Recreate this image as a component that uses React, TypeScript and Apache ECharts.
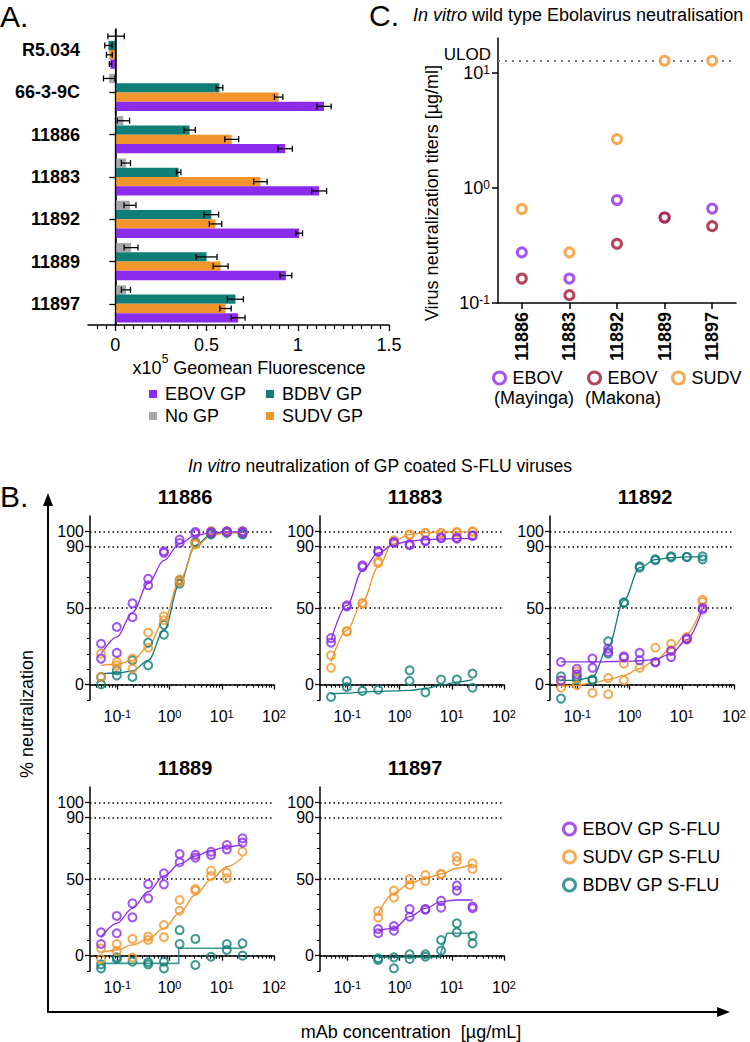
import React, { useEffect, useRef } from 'react';
import * as echarts from 'echarts';

const FONT = '"Liberation Sans", Arial, Helvetica, sans-serif';
const PURPLE = '#8B2BEC';
const TEAL = '#0F7E77';
const ORANGE = '#F2952C';
const GREY = '#A7A7AB';
const RED = '#A3142F';

// ---------------- Panel A ----------------
const aCategories = ['R5.034', '66-3-9C', '11886', '11883', '11892', '11889', '11897'];
const aNoGP = [0.004, -0.034, 0.044, 0.058, 0.08, 0.086, 0.058];
const aNoGPErr = [0.045, 0.031, 0.034, 0.025, 0.033, 0.038, 0.025];
const aBDBV = [-0.038, 0.571, 0.407, 0.347, 0.526, 0.5, 0.658];
const aBDBVErr = [0.02, 0.018, 0.031, 0.012, 0.04, 0.057, 0.044];
const aSUDV = [-0.033, 0.895, 0.638, 0.795, 0.549, 0.577, 0.604];
const aSUDVErr = [0.016, 0.023, 0.038, 0.037, 0.034, 0.041, 0.031];
const aEBOV = [-0.027, 1.144, 0.931, 1.117, 1.008, 0.935, 0.673];
const aEBOVErr = [0.006, 0.039, 0.039, 0.041, 0.018, 0.032, 0.038];
const aXMajor = [0, 0.5, 1, 1.5];
const aXMinor = [-0.1, -0.05, 0.05, 0.1, 0.15, 0.2, 0.25, 0.3, 0.35, 0.4, 0.45, 0.55, 0.6, 0.65, 0.7, 0.75, 0.8, 0.85, 0.9, 0.95, 1.05, 1.1, 1.15, 1.2, 1.25, 1.3, 1.35, 1.4, 1.45];

// ---------------- Panel C ----------------
const cCategories = ['11886', '11883', '11892', '11889', '11897'];
const cMayinga = [0.275, 0.163, 0.785, 0.553, 0.66];
const cMakona = [0.163, 0.117, 0.327, 0.553, 0.465];
const cSudv = [0.655, 0.275, 2.65, 12.7, 12.7];
const cUlod = 12.7;
const cYTicks = [0.1, 1, 10];

// ---------------- Panel B ----------------
const concFull = [0.0488, 0.0977, 0.195, 0.39, 0.78, 1.56, 3.125, 6.25, 12.5, 25];
const concShort = [0.39, 0.78, 1.56, 3.125, 6.25, 12.5, 25];
const bRefLines = [0, 50, 90, 100];
const bYMajor = [0, 50, 90, 100];
const bYLabelsA = [0, 50, 100];
const bYLabelsB = [90];
const bYMinor = [-10, 10, 20, 30, 40, 60, 70, 80];
const bXMajor = [0.1, 1, 10, 100];
const bXMinor = [0.04, 0.05, 0.06, 0.07, 0.08, 0.09, 0.2, 0.3, 0.4, 0.5, 0.6, 0.7, 0.8, 0.9, 2, 3, 4, 5, 6, 7, 8, 9, 20, 30, 40, 50, 60, 70, 80, 90];

// 11886
const m11886Ebov1 = [26.7, 37.6, 53, 69, 87, 94.6, 99.6, 99.6, 100, 100];
const m11886Ebov2 = [17, 20.7, 44, 64.8, 86, 92.4, 98.5, 99, 99.6, 99];
const m11886Sudv1 = [20.2, 14.8, 17, 33.9, 44.6, 68.5, 92, 100.2, 100, 100];
const m11886Sudv2 = [5, 12.6, 10.4, 24.1, 42, 67, 91.5, 99.6, 99.6, 99.6];
const m11886Bdbv1 = [5, 9.3, 15.9, 27.4, 39, 68, 93, 98.5, 99.6, 98.5];
const m11886Bdbv2 = [0.2, 6, 5, 12.6, 32.6, 65.9, 92, 98, 99, 98];
const f11886Ebov = [20, 31, 47, 66, 81, 92, 97.4, 99, 99.6, 99.6];
const f11886Sudv = [12.6, 13.3, 15.9, 24.6, 42, 68, 89.8, 97.4, 99, 99.6];
const f11886Bdbv = [7.2, 7.6, 8.9, 15.9, 35.4, 65.9, 90.9, 98, 99, 99.3];

// 11883
const m11883Ebov1 = [30.4, 51.7, 77.8, 87.2, 93, 90.9, 94, 95.9, 95.9, 97.4];
const m11883Ebov2 = [27.4, 51, 76.7, 86.5, 92.4, 91.5, 93.5, 95.5, 95.2, 97];
const m11883Sudv1 = [19.1, 35, 53.3, 80.4, 94.1, 98, 99.1, 99.1, 99.6, 100];
const m11883Sudv2 = [11, 34.5, 52.8, 79.3, 93, 97.5, 98.7, 98.7, 99.1, 99.6];
const m11883Bdbv1 = [-8, 2.4, -4.1, -3.3, null, 9.3, -5, 3.3, 3.3, 7.2];
const m11883Bdbv2 = [null, -1.5, null, null, null, 2.4, null, null, null, -2];
const f11883Ebov = [28.9, 51.7, 74.6, 85.9, 91.5, 93.7, 94.6, 95, 95.2, 95.2];
const f11883Sudv = [14.8, 35.4, 53.9, 76.7, 94, 98, 99.1, 99.6, 99.6, 99.6];
const f11883Bdbv = [-5.9, -5.5, -4.8, -4.4, -4, -3.7, -2.6, -0.4, 1.7, 3.3];

// 11892
const m11892Ebov1 = [14.8, 10.4, 17, 23.5, 18.5, 20.7, 14.8, 22, 30, 50];
const m11892Ebov2 = [2.8, 6.7, 11, 21.3, 17.6, 15.9, 14.5, 18, 29.5, 49];
const m11892Sudv1 = [2.4, 8.7, -5.4, 4.3, 13.7, 11, 24.1, 26.7, 31.1, 55.4];
const m11892Sudv2 = [-2, -0.4, null, -6.3, 2.8, null, null, 22.5, 30.5, 54];
const m11892Bdbv1 = [5.4, 5, 3.3, 28.3, 53.5, 77.2, 81.7, 83.7, 83.3, 83.7];
const m11892Bdbv2 = [-9.1, 3.5, 2.8, 20.2, 53.5, 76.3, 81.2, 83, 83.3, 81.7];
const f11892Ebov = [14.8, 14.8, 14.8, 15, 15.2, 15.6, 16.5, 20.2, 29.3, 49.6];
const f11892Sudv = [-1.1, -0.4, 1.1, 3.3, 6, 10.4, 15.9, 23.5, 33.3, 51.7];
const f11892Bdbv = [2.8, 2.8, 5, 24.6, 55, 76.3, 81.5, 82.8, 83.3, 83.3];

// 11889
const m11889Ebov1 = [15.2, 25.9, 34.1, 46.7, 53.7, 66.3, 65.7, 67.8, 72.2, 76.5];
const m11889Ebov2 = [7.6, 14.6, 25, 37.4, 46.5, 60.9, 63.9, 65.7, 69.3, 73.7];
const m11889Sudv1 = [4.8, 7.6, 10.9, 12.4, 20, 36.3, 43.5, 55.4, 54.1, 67.8];
const m11889Sudv2 = [-2.2, 3, -1.3, 10.2, 12, 29.3, 42.4, 52, 50.4, null];
const m11889Bdbv1 = [-5.7, -1.1, -3.9, -4.3, -3.9, 16.7, 10.9, -0.7, 7.6, 8];
const m11889Bdbv2 = [-8.3, -2.2, null, -5.7, -8.3, 7.6, -6.1, null, 3.7, 0];
const f11889Ebov = [12, 21.1, 30.9, 41.7, 52, 59.8, 65, 68.5, 71, 72.2];
const f11889Sudv = [2, 3.7, 7, 10.7, 17.8, 28, 39.6, 49.8, 58, 64.1];
const s11889BdbvX = [0.0488, 1.5, 1.5, 25];
const s11889BdbvY = [-5, -5, 4.8, 4.8];

// 11897
const m11897Ebov1 = [17.4, 19.3, 30.4, 30.4, 35.7, 45.7, 32];
const m11897Ebov2 = [14.6, 16.3, 25.4, 30, 31.3, 42.4, 30.9];
const m11897Sudv1 = [29.1, 42.4, 50, 52.6, 53.3, 64.6, 60.2];
const m11897Sudv2 = [24.8, 37.8, 46.1, 48.7, 53, 61.7, 56.5];
const m11897Bdbv1 = [-1.7, -1.1, 0.9, 0.9, 10.2, 21.1, 13];
const m11897Bdbv2 = [-2.8, -8.3, -2.2, -0.7, 3.3, 15.2, 8];
const f11897Ebov = [16.3, 17.8, 25.4, 30.9, 35.2, 36.3, 36.3];
const f11897Sudv = [27.6, 40.7, 47.2, 50.4, 53.3, 57, 59.8];
const s11897BdbvX = [0.39, 5.85, 8.05, 25];
const s11897BdbvY = [-1, -1, 14.6, 14.6];

const BAR_W = 9.3;

type Fit = { kind: 'fit'; y: number[] } | { kind: 'step'; x: number[]; y: number[] };
type Virus = { name: string; color: string; reps: (number | null)[][]; fit: Fit };
type Panel = { title: string; left: number; top: number; conc: number[]; viruses: Virus[] };

const EB = 'EBOV GP S-FLU';
const SU = 'SUDV GP S-FLU';
const BD = 'BDBV GP S-FLU';

const panels: Panel[] = [
  {
    title: '11886', left: 90, top: 516, conc: concFull, viruses: [
      { name: BD, color: TEAL, reps: [m11886Bdbv1, m11886Bdbv2], fit: { kind: 'fit', y: f11886Bdbv } },
      { name: SU, color: ORANGE, reps: [m11886Sudv1, m11886Sudv2], fit: { kind: 'fit', y: f11886Sudv } },
      { name: EB, color: PURPLE, reps: [m11886Ebov1, m11886Ebov2], fit: { kind: 'fit', y: f11886Ebov } },
    ],
  },
  {
    title: '11883', left: 320, top: 516, conc: concFull, viruses: [
      { name: BD, color: TEAL, reps: [m11883Bdbv1, m11883Bdbv2], fit: { kind: 'fit', y: f11883Bdbv } },
      { name: SU, color: ORANGE, reps: [m11883Sudv1, m11883Sudv2], fit: { kind: 'fit', y: f11883Sudv } },
      { name: EB, color: PURPLE, reps: [m11883Ebov1, m11883Ebov2], fit: { kind: 'fit', y: f11883Ebov } },
    ],
  },
  {
    title: '11892', left: 550, top: 516, conc: concFull, viruses: [
      { name: BD, color: TEAL, reps: [m11892Bdbv1, m11892Bdbv2], fit: { kind: 'fit', y: f11892Bdbv } },
      { name: SU, color: ORANGE, reps: [m11892Sudv1, m11892Sudv2], fit: { kind: 'fit', y: f11892Sudv } },
      { name: EB, color: PURPLE, reps: [m11892Ebov1, m11892Ebov2], fit: { kind: 'fit', y: f11892Ebov } },
    ],
  },
  {
    title: '11889', left: 90, top: 787, conc: concFull, viruses: [
      { name: BD, color: TEAL, reps: [m11889Bdbv1, m11889Bdbv2], fit: { kind: 'step', x: s11889BdbvX, y: s11889BdbvY } },
      { name: SU, color: ORANGE, reps: [m11889Sudv1, m11889Sudv2], fit: { kind: 'fit', y: f11889Sudv } },
      { name: EB, color: PURPLE, reps: [m11889Ebov1, m11889Ebov2], fit: { kind: 'fit', y: f11889Ebov } },
    ],
  },
  {
    title: '11897', left: 320, top: 787, conc: concShort, viruses: [
      { name: BD, color: TEAL, reps: [m11897Bdbv1, m11897Bdbv2], fit: { kind: 'step', x: s11897BdbvX, y: s11897BdbvY } },
      { name: SU, color: ORANGE, reps: [m11897Sudv1, m11897Sudv2], fit: { kind: 'fit', y: f11897Sudv } },
      { name: EB, color: PURPLE, reps: [m11897Ebov1, m11897Ebov2], fit: { kind: 'fit', y: f11897Ebov } },
    ],
  },
];

const B_W = 184;
const B_H = 184;

const supRich = (size: number, sup: number) => ({
  b: { fontSize: size, color: '#000', fontFamily: FONT },
  s: { fontSize: sup, color: '#000', fontFamily: FONT, verticalAlign: 'top' as const },
});
const powLabel = (v: number) => `{b|10}{s|${Math.round(Math.log10(v))}}`;

function buildOption() {
  const grids: any[] = [];
  const xAxes: any[] = [];
  const yAxes: any[] = [];
  const series: any[] = [];
  const axisLine = { show: true, lineStyle: { color: '#000', width: 1.5 } };
  const showAll = { showMinLabel: true, showMaxLabel: true, hideOverlap: false };

  // ---------- A ----------
  grids.push({ left: 88, top: 29, width: 301, height: 296, outerBoundsMode: 'none' });
  xAxes.push({
    type: 'value', gridIndex: 0, min: -0.15, max: 1.5, axisLine,
    axisTick: { show: true, customValues: aXMajor, length: 6, lineStyle: { color: '#000', width: 1.3 } },
    axisLabel: { ...showAll, customValues: aXMajor, color: '#000', fontSize: 18, fontFamily: FONT, margin: 11, formatter: (v: number) => String(v) },
    splitLine: { show: false },
  });
  xAxes.push({
    type: 'value', gridIndex: 0, min: -0.15, max: 1.5, position: 'bottom', axisLine: { show: false },
    axisTick: { show: true, customValues: aXMinor, length: 4, lineStyle: { color: '#000', width: 1.2 } },
    axisLabel: { show: false }, splitLine: { show: false },
  });
  yAxes.push({
    type: 'category', gridIndex: 0, data: aCategories, inverse: true, axisLine,
    axisTick: { show: true, alignWithLabel: true, length: 6, lineStyle: { color: '#000', width: 1.3 } },
    axisLabel: { ...showAll, interval: 0, color: '#000', fontSize: 18, fontWeight: 'bold', fontFamily: FONT, margin: 8 },
    splitLine: { show: false },
  });

  const aGroups = [
    { name: 'No GP', color: GREY, vals: aNoGP, errs: aNoGPErr },
    { name: 'BDBV GP', color: TEAL, vals: aBDBV, errs: aBDBVErr },
    { name: 'SUDV GP', color: ORANGE, vals: aSUDV, errs: aSUDVErr },
    { name: 'EBOV GP', color: PURPLE, vals: aEBOV, errs: aEBOVErr },
  ];
  aGroups.forEach((g, slot) => {
    series.push({
      type: 'bar', name: g.name, xAxisIndex: 0, yAxisIndex: 0, data: g.vals,
      barWidth: BAR_W, barGap: '0%', itemStyle: { color: g.color }, z: 2,
      ...(slot === 3 ? {
        markLine: {
          silent: true, symbol: 'none', label: { show: false },
          lineStyle: { color: '#000', width: 1.3, type: 'solid' }, data: [{ xAxis: 0 }],
        },
      } : {}),
    });
  });
  aGroups.forEach((g, slot) => {
    series.push({
      type: 'custom', name: g.name + ' err', xAxisIndex: 0, yAxisIndex: 0, z: 6, silent: true,
      data: g.vals.map((v, i) => [v, i, g.errs[i]]),
      encode: { x: 0, y: 1 },
      renderItem: (_p: any, api: any) => {
        const v = api.value(0), i = api.value(1), e = api.value(2);
        const c = api.coord([v, i]);
        const y = c[1] + (slot - 1.5) * BAR_W;
        const x1 = api.coord([v - e, i])[0];
        const x2 = api.coord([v + e, i])[0];
        const st = { stroke: '#000', lineWidth: 1.3, fill: null };
        return {
          type: 'group', children: [
            { type: 'line', shape: { x1, y1: y, x2, y2: y }, style: st },
            { type: 'line', shape: { x1, y1: y - 3, x2: x1, y2: y + 3 }, style: st },
            { type: 'line', shape: { x1: x2, y1: y - 3, x2, y2: y + 3 }, style: st },
          ],
        };
      },
    });
  });

  // ---------- C ----------
  grids.push({ left: 498, top: 38, width: 238, height: 265, outerBoundsMode: 'none' });
  xAxes.push({
    type: 'category', gridIndex: 1, data: cCategories, axisLine,
    axisTick: { show: true, alignWithLabel: true, length: 6, lineStyle: { color: '#000', width: 1.5 } },
    axisLabel: { ...showAll, interval: 0, rotate: 90, color: '#000', fontSize: 18, fontWeight: 'bold', fontFamily: FONT, margin: 9 },
    splitLine: { show: false },
  });
  yAxes.push({
    type: 'log', gridIndex: 1, min: 0.1, max: 20, axisLine,
    axisTick: { show: true, customValues: cYTicks, length: 6, lineStyle: { color: '#000', width: 1.5 } },
    axisLabel: { ...showAll, customValues: cYTicks, formatter: powLabel, rich: supRich(18, 12), margin: 8 },
    splitLine: { show: false }, minorTick: { show: false },
  });
  const ring = (color: string) => ({ color: '#fff', borderColor: color, borderWidth: 3 });
  series.push({
    type: 'scatter', name: 'EBOV (Mayinga)', xAxisIndex: 2, yAxisIndex: 1, data: cMayinga,
    symbol: 'circle', symbolSize: 9, itemStyle: ring(PURPLE), z: 3,
  });
  series.push({
    type: 'scatter', name: 'EBOV (Makona)', xAxisIndex: 2, yAxisIndex: 1, data: cMakona,
    symbol: 'circle', symbolSize: 9, itemStyle: ring(RED), z: 4,
  });
  series.push({
    type: 'scatter', name: 'SUDV', xAxisIndex: 2, yAxisIndex: 1, data: cSudv,
    symbol: 'circle', symbolSize: 9, itemStyle: ring(ORANGE), z: 5,
    markLine: {
      silent: true, symbol: 'none', label: { show: false }, z: 1,
      lineStyle: { color: '#777', width: 2, type: [2, 5] }, data: [{ yAxis: cUlod }],
    },
  });

  // ---------- B ----------
  panels.forEach((p, k) => {
    const gi = 2 + k;
    grids.push({ left: p.left, top: p.top, width: B_W, height: B_H, outerBoundsMode: 'none' });
    const xi = xAxes.length;
    xAxes.push({
      type: 'log', gridIndex: gi, min: 0.03, max: 100, position: 'bottom', axisLine,
      axisTick: { show: true, customValues: bXMajor, length: 5, lineStyle: { color: '#000', width: 1.3 } },
      axisLabel: { ...showAll, customValues: bXMajor, formatter: powLabel, rich: supRich(16, 11), margin: 8 },
      splitLine: { show: false }, minorTick: { show: false },
    });
    xAxes.push({
      type: 'log', gridIndex: gi, min: 0.03, max: 100, position: 'bottom', axisLine: { show: false },
      axisTick: { show: true, customValues: bXMinor, length: 3, lineStyle: { color: '#000', width: 1.1 } },
      axisLabel: { show: false }, splitLine: { show: false }, minorTick: { show: false },
    });
    const yi = yAxes.length;
    const yLabelStyle = { ...showAll, color: '#000', fontSize: 16, fontFamily: FONT, margin: 6 };
    yAxes.push({
      type: 'value', gridIndex: gi, min: -10, max: 110, position: 'left', axisLine,
      axisTick: { show: true, customValues: bYMajor, length: 5, lineStyle: { color: '#000', width: 1.3 } },
      axisLabel: { ...yLabelStyle, customValues: bYLabelsA },
      splitLine: { show: false },
    });
    yAxes.push({
      type: 'value', gridIndex: gi, min: -10, max: 110, position: 'left', axisLine: { show: false },
      axisTick: { show: true, customValues: bYMinor, length: 3, lineStyle: { color: '#000', width: 1.1 } },
      axisLabel: { ...yLabelStyle, customValues: bYLabelsB }, splitLine: { show: false },
    });
    p.viruses.forEach((v, vi) => {
      const pts: number[][] = [];
      v.reps.forEach((r) => r.forEach((val, i) => { if (val !== null) pts.push([p.conc[i], val]); }));
      series.push({
        type: 'scatter', name: v.name, xAxisIndex: xi, yAxisIndex: yi, data: pts,
        symbol: 'circle', symbolSize: 8, z: 4 + vi,
        itemStyle: { color: 'rgba(255,255,255,0)', borderColor: v.color, borderWidth: 2 },
        ...(vi === 0 ? {
          markLine: {
            silent: true, symbol: 'none', label: { show: false }, z: 1,
            lineStyle: { color: '#000', width: 1.5, type: [1.5, 3] },
            data: bRefLines.map((r) => ({ yAxis: r })),
          },
        } : {}),
      });
      const lineData = v.fit.kind === 'fit'
        ? p.conc.map((c, i) => [c, (v.fit as any).y[i]])
        : (v.fit as any).x.map((x: number, i: number) => [x, (v.fit as any).y[i]]);
      series.push({
        type: 'line', name: `${v.name} fit ${p.title}`, xAxisIndex: xi, yAxisIndex: yi, data: lineData,
        showSymbol: false, symbol: 'none', smooth: v.fit.kind === 'fit' ? 0.35 : false,
        smoothMonotone: 'x', z: 3 + vi,
        lineStyle: { color: v.color, width: v.fit.kind === 'fit' ? 1.3 : 1.6, opacity: v.fit.kind === 'fit' ? 1 : 0.8 },
        itemStyle: { color: v.color },
      });
    });
  });

  const textEl = (text: string, x: number, y: number, size: number, extra: any = {}, elExtra: any = {}) => ({
    type: 'text', x, y, silent: true, ...elExtra,
    style: { text, fontSize: size, fontFamily: FONT, fill: '#000', align: 'left', verticalAlign: 'middle', ...extra },
  });

  const graphic: any[] = [
    textEl('A.', 0, 16, 30),
    textEl('C.', 369, 15, 30),
    textEl('B.', 0, 496, 30),
    textEl('{i|In vitro} wild type Ebolavirus neutralisation', 413, 15, 18, {
      rich: { i: { fontStyle: 'italic', fontSize: 18, fontFamily: FONT, fill: '#000' } },
    }),
    textEl('{t|x10}{s|5}{t| Geomean Fluorescence}', 249, 365, 18, {
      align: 'center',
      rich: {
        t: { fontSize: 18, fontFamily: FONT, fill: '#000', lineHeight: 24, verticalAlign: 'bottom' },
        s: { fontSize: 12, fontFamily: FONT, fill: '#000', lineHeight: 24, verticalAlign: 'top' },
      },
    }),
    textEl('ULOD', 491, 54, 17, { align: 'right' }),
    textEl('Virus neutralization titers [µg/ml]', 432, 193, 18, { align: 'center' }, { rotation: Math.PI / 2 }),
    textEl('(Mayinga)', 494, 398, 18),
    textEl('(Makona)', 585, 398, 18),
    textEl('{i|In vitro} neutralization of GP coated S-FLU viruses', 380, 466, 17.5, {
      align: 'center',
      rich: { i: { fontStyle: 'italic', fontSize: 17.5, fontFamily: FONT, fill: '#000' } },
    }),
    textEl('% neutralization', 27, 714, 18, { align: 'center' }, { rotation: Math.PI / 2 }),
    textEl('mAb concentration  [µg/mL]', 411, 1032, 18, { align: 'center' }),
    { type: 'line', silent: true, shape: { x1: 48, y1: 1012, x2: 48, y2: 503 }, style: { stroke: '#000', lineWidth: 2 } },
    { type: 'polygon', silent: true, shape: { points: [[43, 506], [53, 506], [48, 493]] }, style: { fill: '#000' } },
    { type: 'line', silent: true, shape: { x1: 47, y1: 1012, x2: 720, y2: 1012 }, style: { stroke: '#000', lineWidth: 2 } },
    { type: 'polygon', silent: true, shape: { points: [[717, 1007], [717, 1017], [730, 1012]] }, style: { fill: '#000' } },
  ];
  panels.forEach((p) => {
    graphic.push(textEl(p.title, p.left + B_W / 2 + 3, p.top - 19, 20, { align: 'center', fontWeight: 'bold' }));
  });

  const legendText = { color: '#000', fontSize: 18, fontFamily: FONT };
  const aLegend = (name: string, left: number, top: number) => ({
    show: true, left, top, padding: 0, itemWidth: 8, itemHeight: 8, icon: 'rect',
    textStyle: { ...legendText, padding: [0, 0, 0, 3] }, data: [name], selectedMode: false,
  });
  const ringLegend = (name: string, color: string, left: number, top: number, label?: string) => ({
    show: true, left, top, padding: 0, itemWidth: 12, itemHeight: 12, icon: 'circle', selectedMode: false,
    textStyle: { ...legendText, padding: [0, 0, 0, 2] },
    formatter: label ? () => label : undefined,
    data: [{ name, icon: 'circle', itemStyle: { color: '#fff', borderColor: color, borderWidth: 3 } }],
  });

  const legend = [
    aLegend('EBOV GP', 149, 385),
    aLegend('BDBV GP', 266, 385),
    aLegend('No GP', 149, 407),
    aLegend('SUDV GP', 266, 407),
    ringLegend('EBOV (Mayinga)', PURPLE, 492, 369, 'EBOV'),
    ringLegend('EBOV (Makona)', RED, 587, 369, 'EBOV'),
    ringLegend('SUDV', ORANGE, 671, 369),
    ringLegend(EB, PURPLE, 562, 820),
    ringLegend(SU, ORANGE, 562, 848),
    ringLegend(BD, TEAL, 562, 876),
  ];

  return {
    animation: false,
    backgroundColor: '#fff',
    textStyle: { fontFamily: FONT, color: '#000' },
    grid: grids,
    xAxis: xAxes,
    yAxis: yAxes,
    legend,
    series,
    graphic,
  };
}

export default function App() {
  const ref = useRef<HTMLDivElement>(null);
  useEffect(() => {
    if (!ref.current) return;
    const chart = echarts.init(ref.current, undefined, { renderer: 'svg', width: 750, height: 1042 });
    chart.setOption(buildOption() as any);
    return () => chart.dispose();
  }, []);
  return (
    <div
      ref={ref}
      style={{ position: 'fixed', left: 0, top: 0, width: 750, height: 1042, background: '#fff' }}
    />
  );
}
